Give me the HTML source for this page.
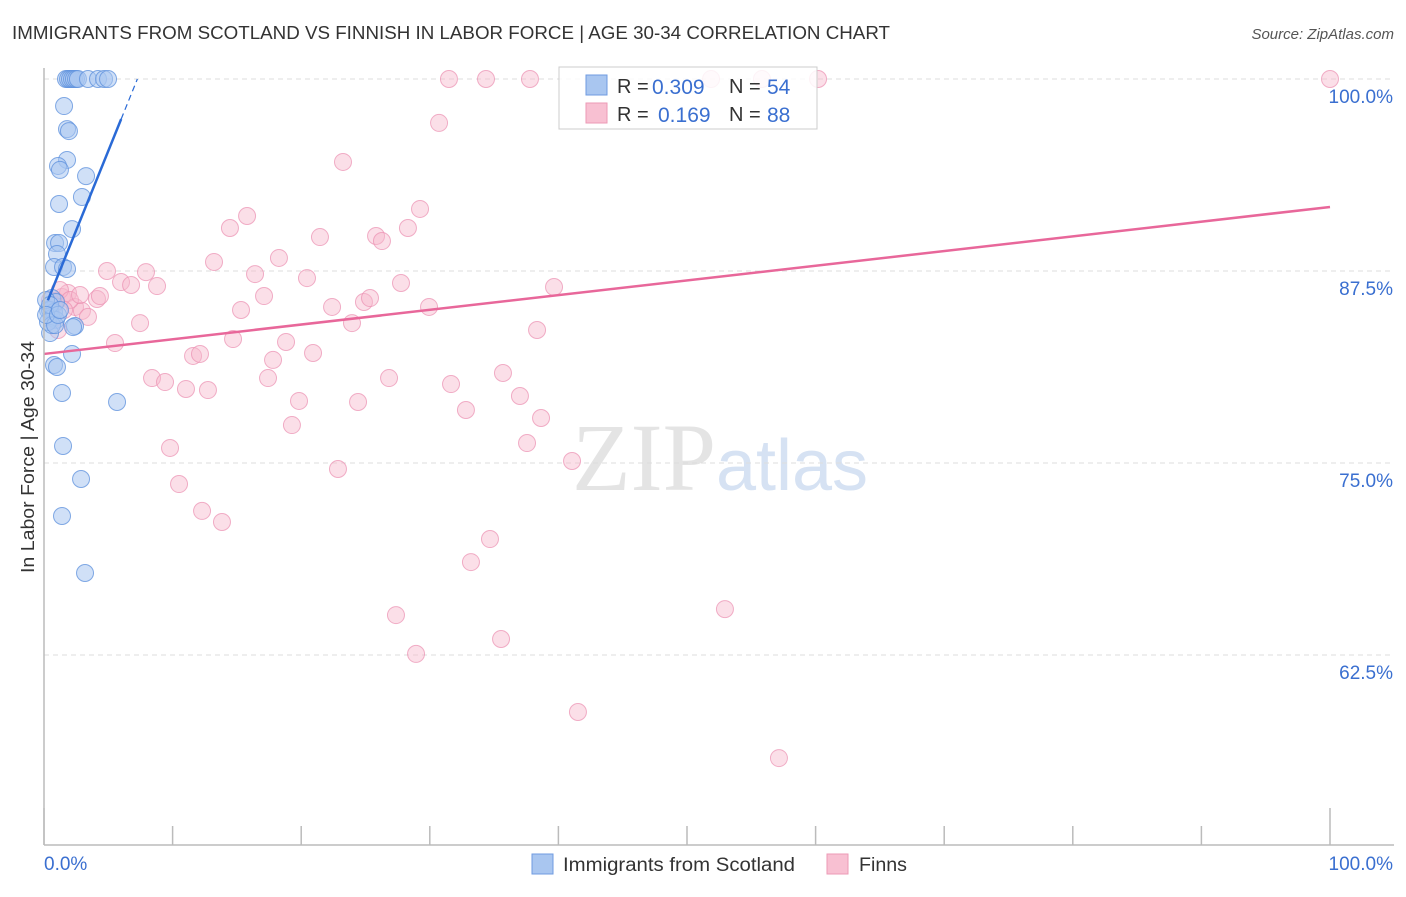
<!DOCTYPE html>
<html><head><meta charset="utf-8"><style>
body{margin:0;background:#fff;width:1406px;height:892px;overflow:hidden;font-family:"Liberation Sans",sans-serif}
</style></head><body>
<svg id="chart" width="1406" height="892" xmlns="http://www.w3.org/2000/svg" style="font-family:'Liberation Sans',sans-serif">
<text x="12" y="39" font-size="18" fill="#333" textLength="878" lengthAdjust="spacingAndGlyphs">IMMIGRANTS FROM SCOTLAND VS FINNISH IN LABOR FORCE | AGE 30-34 CORRELATION CHART</text>
<text x="1394" y="39" font-size="15" fill="#555" text-anchor="end" font-style="italic">Source: ZipAtlas.com</text>
<text x="720" y="490" font-size="96" text-anchor="middle" fill="#e4e4e4" font-family="Liberation Serif,serif">ZIP<tspan fill="#d6e2f3" font-family="Liberation Sans,sans-serif" font-size="72">atlas</tspan></text>
<text transform="translate(34,457) rotate(-90)" font-size="18" fill="#333" text-anchor="middle" textLength="232" lengthAdjust="spacingAndGlyphs">In Labor Force | Age 30-34</text>
<g id="grid"></g><g id="marks"></g><g id="axes"></g>
<g>
<rect x="559" y="67" width="258" height="62" fill="#fff" fill-opacity="0.85" stroke="#ccc"/>
<rect x="586" y="75" width="21" height="20" fill="#a9c6f0" stroke="#6f9be0"/>
<rect x="586" y="103" width="21" height="20" fill="#f8c0d2" stroke="#ec9ab6"/>
<text x="617" y="93" font-size="20" fill="#333">R =</text>
<text x="652" y="94" font-size="21" fill="#3a6fd0">0.309</text>
<text x="729" y="93" font-size="20" fill="#333">N =</text>
<text x="767" y="94" font-size="21" fill="#3a6fd0">54</text>
<text x="617" y="121" font-size="20" fill="#333">R =</text>
<text x="658" y="122" font-size="21" fill="#3a6fd0">0.169</text>
<text x="729" y="121" font-size="20" fill="#333">N =</text>
<text x="767" y="122" font-size="21" fill="#3a6fd0">88</text>
</g>
<g>
<rect x="532" y="854" width="21" height="20" fill="#a9c6f0" stroke="#6f9be0"/>
<text x="563" y="871" font-size="19" fill="#333" textLength="232" lengthAdjust="spacingAndGlyphs">Immigrants from Scotland</text>
<rect x="827" y="854" width="21" height="20" fill="#f8c0d2" stroke="#ec9ab6"/>
<text x="859" y="871" font-size="19" fill="#333" textLength="48" lengthAdjust="spacingAndGlyphs">Finns</text>
</g>
</svg>
<script>
const blueX=[1.71,1.87,2.02,2.18,2.33,2.49,2.64,3.42,4.2,4.67,4.98,1.56,1.79,1.94,1.79,1.09,1.24,3.27,2.95,1.17,2.18,0.86,1.17,1.01,0.78,1.48,1.79,0.62,0.93,0.31,0.47,0.78,0.62,0.93,2.41,2.26,0.47,2.18,0.78,1.01,1.4,5.68,1.48,2.88,1.4,3.19,0.16,0.47,0.31,0.62,0.86,0.16,1.09,1.24];
const blueY=[100,100,100,100,100,100,100,100,100,100,100,98.24,96.74,96.61,94.73,94.34,94.08,93.68,92.32,91.86,90.23,89.32,89.32,88.61,87.76,87.76,87.63,85.74,85.48,84.96,84.96,84.83,84.44,84.31,83.92,83.85,83.46,82.1,81.38,81.25,79.56,78.97,76.11,73.96,71.55,67.84,85.61,85.29,84.18,83.98,83.98,84.64,84.64,84.96];
const pinkX=[31.49,34.37,37.79,51.87,55.83,60.19,100,30.72,23.25,15.79,29.24,14.46,21.46,25.82,26.28,28.3,13.22,18.27,16.41,20.45,4.9,7.93,5.99,6.77,8.79,27.76,39.66,17.11,4.12,1.4,1.87,0.93,2.41,2.95,3.42,15.32,22.4,24.88,25.35,29.94,7.47,23.95,38.34,14.7,18.82,5.52,11.59,12.13,20.92,17.81,8.4,9.41,11.04,12.75,17.42,26.83,31.65,35.69,19.83,24.42,32.81,37.01,38.65,19.28,37.56,9.8,22.86,41.06,10.5,12.29,13.84,34.68,33.2,27.37,52.95,28.93,35.54,41.52,57.15,0.47,0.78,1.24,2.02,2.8,1.09,1.56,0.62,4.35];
const pinkY=[100,100,100,100,100,100,100,97.14,94.6,91.08,91.54,90.3,89.71,89.78,89.45,90.3,88.09,88.35,87.3,87.04,87.5,87.43,86.78,86.59,86.52,86.72,86.46,85.87,85.68,85.81,86.07,85.55,85.16,84.9,84.51,84.96,85.16,85.48,85.74,85.16,84.11,84.11,83.66,83.07,82.88,82.81,81.97,82.1,82.16,81.71,80.53,80.27,79.82,79.75,80.53,80.53,80.14,80.86,79.04,78.97,78.45,79.36,77.93,77.47,76.3,75.98,74.61,75.13,73.63,71.88,71.16,70.05,68.55,65.1,65.49,62.57,63.54,58.79,55.79,85.61,85.29,86.26,85.61,85.94,83.66,84.96,84.31,85.87];
const yTicks=[100,87.5,75,62.5];
const yTickLabels=["100.0%","87.5%","75.0%","62.5%"];
const xTicks=[0,10,20,30,40,50,60,70,80,90,100];
const blueFit=[84.97,2.07];
const pinkFit=[82.1,0.0957];
const NS="http://www.w3.org/2000/svg";
const X=v=>44+v*12.86, Y=v=>79+(100-v)*15.36;
function mk(tag,attrs,parent){const e=document.createElementNS(NS,tag);for(const k in attrs)e.setAttribute(k,attrs[k]);parent.appendChild(e);return e;}
const grid=document.getElementById('grid'),marks=document.getElementById('marks'),axes=document.getElementById('axes');
yTicks.forEach((t,i)=>{
 const l=mk('line',{x1:44,x2:1394,y1:Y(t),y2:Y(t),stroke:'#ddd','stroke-dasharray':'5,4'},grid);
 
 
 const tx=mk('text',{x:1393,y:Y(t)+24,'font-size':19,fill:'#3a6fd0','text-anchor':'end'},axes);
 tx.textContent=yTickLabels[i];
 
 
});
const ax1=mk('line',{x1:44,x2:44,y1:68,y2:845,stroke:'#bbb','stroke-width':1.5},axes);


const ax2=mk('line',{x1:44,x2:1394,y1:845,y2:845,stroke:'#bbb','stroke-width':1.5},axes);


xTicks.forEach(t=>{
 const l=mk('line',{x1:X(t),x2:X(t),y1:(t==0||t==100)?808:826,y2:845,stroke:'#bbb','stroke-width':1.5},axes);
 
 
});
const xl0=mk('text',{x:44,y:870,'font-size':19,fill:'#3a6fd0'},axes);xl0.textContent='0.0%';


const xl1=mk('text',{x:1393,y:870,'font-size':19,fill:'#3a6fd0','text-anchor':'end'},axes);xl1.textContent='100.0%';


pinkX.forEach((x,i)=>{
 const c=mk('circle',{cx:X(x),cy:Y(pinkY[i]),r:8.5,fill:'#f7b8cc','fill-opacity':0.45,stroke:'#eb8fb0','stroke-opacity':0.7},marks);
 
 
});
blueX.forEach((x,i)=>{
 const c=mk('circle',{cx:X(x),cy:Y(blueY[i]),r:8.5,fill:'#a9c6f0','fill-opacity':0.55,stroke:'#5b8fdc','stroke-opacity':0.75},marks);
 
 
});
const pl=mk('line',{x1:X(0),y1:Y(pinkFit[0]),x2:X(100),y2:Y(pinkFit[0]+100*pinkFit[1]),stroke:'#e8679a','stroke-width':2.5},marks);


const bl=mk('line',{x1:X(0.3),y1:Y(blueFit[0]+0.3*blueFit[1]),x2:X(6),y2:Y(blueFit[0]+6*blueFit[1]),stroke:'#2a6ad6','stroke-width':2.5},marks);


const xe=(100-blueFit[0])/blueFit[1];
const bd=mk('line',{x1:X(6),y1:Y(blueFit[0]+6*blueFit[1]),x2:X(xe),y2:Y(100),stroke:'#2a6ad6','stroke-width':1.2,'stroke-dasharray':'6,4'},marks);


</script>
</body></html>
